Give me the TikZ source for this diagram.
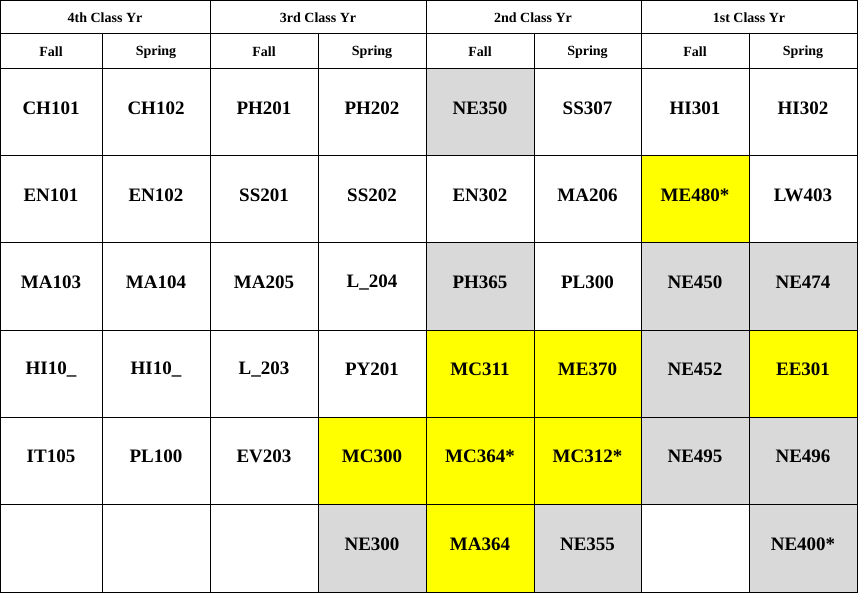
\documentclass[tikz,border=0pt]{standalone}
\usepackage{fontspec}
\setmainfont{Liberation Serif}
\definecolor{gr}{RGB}{217,217,217}
\definecolor{yl}{RGB}{255,255,0}
\begin{document}
\begin{tikzpicture}[x=1pt,y=-1pt,
 cell/.style={minimum width=108pt,minimum height=87pt,inner sep=0pt,font=\bfseries\fontsize{19}{21}\selectfont},
 hd/.style={inner sep=0pt,font=\bfseries\fontsize{14}{16}\selectfont},
 grid/.style={line width=1pt}]
\useasboundingbox (0,0) rectangle (858,593);
\def\xs{{0,102,210,318,426,534,641,749,857}}
\def\ys{{69,156,243,330,417,504,592}}
% cells
\foreach \r/\row in {0/{CH101/w,CH102/w,PH201/w,PH202/w,NE350/g,SS307/w,HI301/w,HI302/w},
 1/{EN101/w,EN102/w,SS201/w,SS202/w,EN302/w,MA206/w,ME480*/y,LW403/w},
 2/{MA103/w,MA104/w,MA205/w,L\_204/w,PH365/g,PL300/w,NE450/g,NE474/g},
 3/{HI10\_/w,HI10\_/w,L\_203/w,PY201/w,MC311/y,ME370/y,NE452/g,EE301/y},
 4/{IT105/w,PL100/w,EV203/w,MC300/y,MC364*/y,MC312*/y,NE495/g,NE496/g},
 5/{/w,/w,/w,NE300/g,MA364/y,NE355/g,/w,NE400*/g}}{
 \foreach \t/\f [count=\c from 0] in \row {
  \pgfmathsetmacro{\xa}{\xs[\c]}\pgfmathsetmacro{\xb}{\xs[\c+1]}
  \pgfmathsetmacro{\ya}{\ys[\r]}\pgfmathsetmacro{\yb}{\ys[\r+1]}
  \if g\f \fill[gr] (\xa,\ya) rectangle (\xb,\yb);\fi
  \if y\f \fill[yl] (\xa,\ya) rectangle (\xb,\yb);\fi
  \node[cell] (c\r\c) at ({(\xa+\xb)/2},{(\ya+\yb)/2-4}) {\t};
 }}
% headers
\node[hd] (h1) at (105,18) {4th Class Yr};
\node[hd] (h2) at (318,18) {3rd Class Yr};
\node[hd] (h3) at (533,18) {2nd Class Yr};
\node[hd] (h4) at (749,18) {1st Class Yr};
\foreach \c/\xm/\t in {0/51/Fall,1/156/Spring,2/264/Fall,3/372/Spring,4/480/Fall,5/587.5/Spring,6/695/Fall,7/803/Spring}{
 \node[hd] (s\c) at (\xm,52) {\t};}
% grid
\draw[grid] (0.5,0.5) rectangle (857,592);
\foreach \y in {34,69,156,243,330,417,504} \draw[grid] (0,\y) -- (857,\y);
\foreach \x in {210,426,641} \draw[grid] (\x,0) -- (\x,592);
\foreach \x in {102,318,534,749} \draw[grid] (\x,34) -- (\x,592);
\end{tikzpicture}
\end{document}
